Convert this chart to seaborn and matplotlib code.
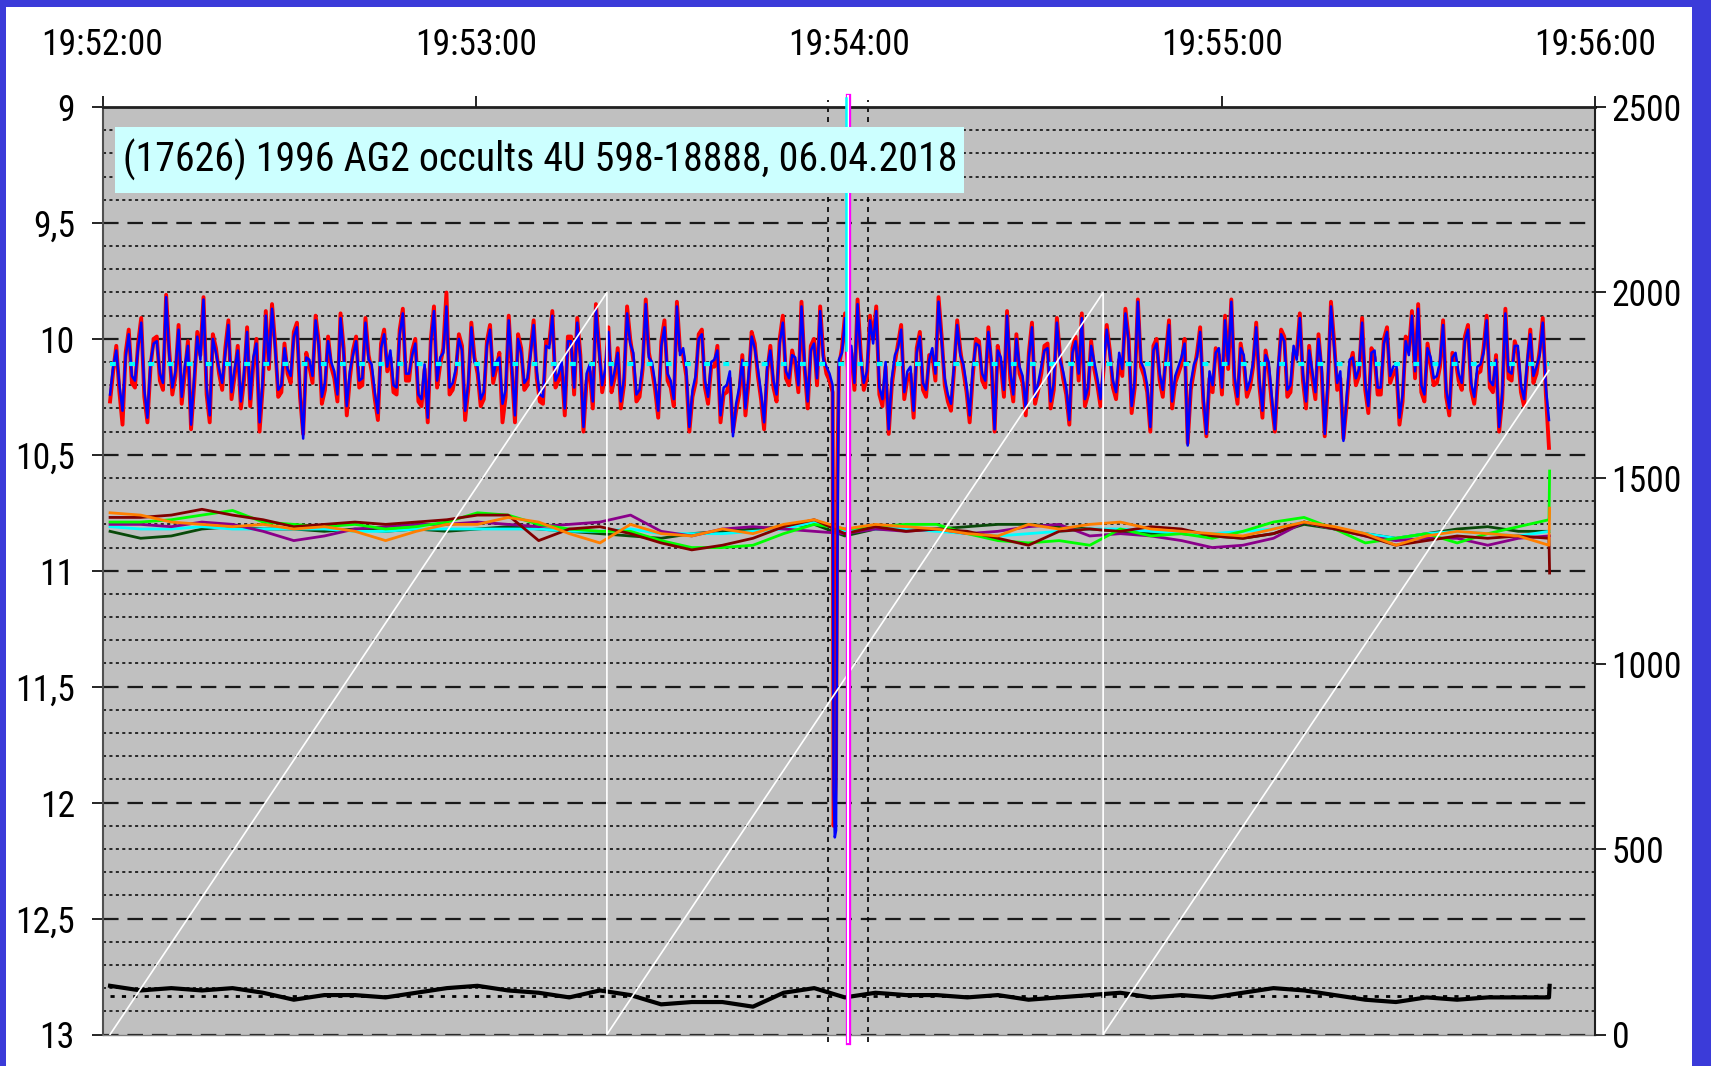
import os
import numpy as np
import pandas as pd
import matplotlib
matplotlib.use('Agg')
import matplotlib.pyplot as plt
import matplotlib.font_manager as fm
from matplotlib.patches import Rectangle
import seaborn as sns

# ---------------- data ----------------
time_ticks_s = [0, 60, 120, 180, 240]
time_labels = ['19:52:00', '19:53:00', '19:54:00', '19:55:00', '19:56:00']
mag_ticks = [9, 9.5, 10, 10.5, 11, 11.5, 12, 12.5, 13]
mag_labels = ['9', '9,5', '10', '10,5', '11', '11,5', '12', '12,5', '13']
right_ticks = [0, 500, 1000, 1500, 2000, 2500]
right_labels = ['0', '500', '1000', '1500', '2000', '2500']
title = '(17626) 1996 AG2 occults 4U 598-18888, 06.04.2018'

target_t_start, target_t_end = 1.2, 232.6
# whole-second samples
target_blue = [
    10.24, 10.05, 10.31, 9.98, 10.18, 9.93, 10.34, 10.02, 10.15, 9.82, 10.21, 9.96, 10.12, 10.37, 9.99, 9.83, 10.33, 10.06, 10.19, 9.94,
    10.13, 10.27, 9.97, 10.08, 10.36, 9.90, 9.87, 10.22, 10.04, 10.16, 9.95, 10.43, 10.09, 9.92, 10.25, 10.01, 10.14, 9.91, 10.29, 10.07,
    10.18, 9.93, 10.11, 10.32, 9.98, 10.05, 10.21, 9.89, 10.15, 10.02, 10.26, 10.34, 9.88, 10.08, 9.86, 10.19, 10.00, 10.31, 9.95, 10.12,
    10.23, 9.96, 10.10, 10.28, 9.92, 10.33, 10.06, 10.17, 9.94, 10.24, 10.03, 9.90, 10.15, 10.30, 10.01, 9.93, 10.38, 10.11, 9.87, 10.20,
    9.97, 10.14, 10.27, 9.89, 10.06, 10.22, 9.85, 10.10, 10.31, 9.95, 10.18, 9.86, 10.04, 10.38, 10.16, 9.98, 10.25, 10.09, 10.33, 10.20,
    10.42, 10.21, 10.30, 9.99, 10.13, 10.36, 10.05, 10.24, 9.93, 10.17, 10.08, 9.86, 10.27, 10.02, 9.88, 10.12, 10.20, 10.09, 9.91, 10.03,
    9.85, 10.19, 9.92, 9.88, 10.26, 10.39, 10.07, 9.96, 10.14, 10.31, 9.99, 10.22, 10.04, 9.84, 10.17, 10.28, 9.94, 10.11, 10.33, 10.02,
    10.15, 9.97, 10.39, 10.08, 9.90, 10.24, 10.12, 10.30, 9.95, 10.19, 10.05, 10.27, 9.93, 10.14, 10.35, 10.01, 9.91, 10.21, 10.10, 10.26,
    9.96, 10.18, 10.06, 9.89, 10.29, 9.84, 10.13, 10.38, 10.02, 10.22, 9.94, 10.16, 10.08, 10.46, 10.11, 9.97, 10.41, 10.20, 10.04, 9.92,
    9.84, 10.25, 10.07, 10.18, 9.95, 10.31, 10.10, 10.39, 9.98, 10.22, 10.03, 9.91, 10.27, 10.14, 10.00, 10.41, 9.86, 10.19, 10.44, 10.09,
    10.17, 9.93, 10.29, 10.05, 10.21, 9.97, 10.12, 10.34, 10.01, 9.90, 9.87, 10.24, 10.08, 10.16, 9.94, 10.30, 10.06, 10.19, 9.96, 10.25,
    10.11, 9.92, 10.20, 10.38, 9.89, 10.15, 10.03, 10.26, 9.98, 10.12, 9.93, 10.35,
]
target_red = [
    10.27, 10.03, 10.37, 9.96, 10.21, 9.91, 10.36, 10.00, 10.18, 9.81, 10.24, 9.94, 10.15, 10.39, 9.97, 9.82, 10.36, 10.04, 10.22, 9.92,
    10.16, 10.30, 9.95, 10.11, 10.40, 9.88, 9.85, 10.25, 10.02, 10.19, 9.93, 10.41, 10.12, 9.90, 10.28, 9.99, 10.17, 9.89, 10.33, 10.05,
    10.21, 9.91, 10.14, 10.35, 9.96, 10.08, 10.24, 9.87, 10.18, 10.00, 10.29, 10.36, 9.86, 10.11, 9.80, 10.22, 9.98, 10.35, 9.93, 10.15,
    10.26, 9.94, 10.13, 10.36, 9.90, 10.36, 10.04, 10.20, 9.92, 10.27, 10.01, 9.88, 10.18, 10.33, 9.99, 9.91, 10.40, 10.14, 9.85, 10.23,
    9.95, 10.17, 10.30, 9.86, 10.09, 10.25, 9.83, 10.13, 10.34, 9.92, 10.21, 9.84, 10.07, 10.40, 10.19, 9.96, 10.28, 10.12, 10.36, 10.23,
    10.40, 10.24, 10.33, 9.97, 10.16, 10.39, 10.03, 10.27, 9.90, 10.20, 10.11, 9.84, 10.30, 10.00, 9.86, 10.15, 10.23, 10.12, 9.89, 10.06,
    9.83, 10.22, 9.90, 9.86, 10.29, 10.41, 10.10, 9.94, 10.17, 10.34, 9.97, 10.25, 10.07, 9.82, 10.20, 10.31, 9.92, 10.14, 10.36, 10.00,
    10.18, 9.95, 10.40, 10.11, 9.88, 10.27, 10.15, 10.33, 9.93, 10.22, 10.03, 10.30, 9.91, 10.17, 10.37, 9.99, 9.89, 10.24, 10.13, 10.29,
    9.94, 10.21, 10.09, 9.87, 10.32, 9.83, 10.16, 10.40, 10.00, 10.25, 9.92, 10.19, 10.11, 10.45, 10.14, 9.95, 10.42, 10.23, 10.07, 9.90,
    9.83, 10.28, 10.10, 10.21, 9.93, 10.34, 10.13, 10.40, 9.96, 10.25, 10.06, 9.89, 10.30, 10.17, 9.98, 10.42, 9.84, 10.22, 10.43, 10.12,
    10.20, 9.91, 10.32, 10.08, 10.24, 9.95, 10.15, 10.37, 9.99, 9.88, 9.85, 10.27, 10.11, 10.19, 9.92, 10.33, 10.09, 10.22, 9.94, 10.28,
    10.14, 9.90, 10.23, 10.40, 9.87, 10.18, 10.06, 10.29, 9.96, 10.15, 9.91, 10.47,
]
# half-second samples (between the whole-second ones); nan = replaced by the occultation samples
target_blue_half = [
    10.12, 10.20, 10.08, 10.16, 10.04, 10.22, 10.10, 10.01, 10.19, 10.07, 10.14, 10.25, 10.03, 10.17, 10.09, 10.21, 10.00, 10.13, 10.06, 10.23,
    10.05, 10.15, 10.26, 10.02, 10.18, 10.11, 10.04, 10.20, 10.13, 9.99, 10.22, 10.08, 10.16, 10.03, 10.19, 10.10, 10.24, 10.06, 10.14, 10.01,
    10.17, 10.09, 10.23, 10.04, 10.12, 10.20, 9.98, 10.15, 10.07, 10.24, 10.11, 10.02, 10.18, 10.06, 10.21, 10.13, 10.05, 10.19, 10.10, 10.26,
    10.03, 10.16, 10.08, 10.22, 10.12, 10.00, 10.19, 10.07, 10.14, 10.25, 10.04, 10.18, 10.10, 10.01, 10.21, 10.09, 10.15, 10.27, 10.05, 10.13,
    10.20, 10.06, 10.17, 10.02, 10.24, 10.11, 10.08, 10.19, 10.03, 10.15, 10.26, 10.07, 10.13, 10.22, 10.00, 10.18, 10.10, 10.05, 10.21, 10.14,
    10.28, 10.09, 10.16, 10.04, 10.23, 10.12, 10.18, 10.02, 10.14, 10.07, 10.20, 10.11, 10.05, 10.17, 10.09, 10.15, np.nan, 10.06, 10.13, 10.19,
    10.08, 10.14, 10.02, 10.21, 10.10, 10.17, 10.04, 10.23, 10.12, 10.06, 10.19, 10.09, 10.15, 10.01, 10.24, 10.11, 10.07, 10.20, 10.13, 10.03,
    10.18, 10.10, 10.05, 10.22, 10.14, 10.00, 10.16, 10.08, 10.25, 10.12, 10.04, 10.19, 10.09, 10.21, 10.06, 10.15, 10.26, 10.03, 10.17, 10.11,
    10.07, 10.23, 10.13, 10.01, 10.18, 10.10, 10.20, 10.05, 10.15, 10.09, 10.27, 10.12, 10.02, 10.19, 10.08, 10.24, 10.14, 10.06, 10.21, 10.11,
    10.16, 10.04, 10.22, 10.10, 10.17, 10.07, 10.25, 10.13, 10.01, 10.20, 10.09, 10.15, 10.05, 10.23, 10.12, 10.18, 10.03, 10.14, 10.26, 10.08,
    10.13, 10.19, 10.06, 10.21, 10.02, 10.16, 10.11, 10.24, 10.07, 10.14, 10.20, 10.04, 10.17, 10.10, 10.22, 10.08, 10.15, 10.01, 10.19, 10.12,
    10.06, 10.18, 10.09, 10.23, 10.14, 10.03, 10.20, 10.10, 10.16, 10.07, 10.21,
]
target_red_half = [
    10.14, 10.23, 10.06, 10.19, 10.02, 10.25, 10.12, 9.99, 10.22, 10.05, 10.16, 10.28, 10.01, 10.20, 10.07, 10.24, 9.98, 10.15, 10.04, 10.26,
    10.03, 10.18, 10.29, 10.00, 10.21, 10.13, 10.02, 10.23, 10.15, 9.97, 10.25, 10.06, 10.19, 10.01, 10.22, 10.12, 10.27, 10.04, 10.17, 9.99,
    10.20, 10.07, 10.26, 10.02, 10.14, 10.23, 9.96, 10.18, 10.05, 10.27, 10.13, 10.00, 10.21, 10.04, 10.24, 10.15, 10.03, 10.22, 10.08, 10.29,
    10.01, 10.19, 10.06, 10.25, 10.14, 9.98, 10.22, 10.05, 10.17, 10.28, 10.02, 10.21, 10.12, 9.99, 10.24, 10.07, 10.18, 10.30, 10.03, 10.16,
    10.23, 10.04, 10.20, 10.00, 10.27, 10.13, 10.06, 10.22, 10.01, 10.18, 10.29, 10.05, 10.16, 10.25, 9.98, 10.21, 10.12, 10.03, 10.24, 10.17,
    10.31, 10.07, 10.19, 10.02, 10.26, 10.14, 10.21, 10.00, 10.17, 10.05, 10.23, 10.13, 10.03, 10.20, 10.07, 10.18, np.nan, 10.04, 10.16, 10.22,
    10.06, 10.17, 10.00, 10.24, 10.12, 10.20, 10.02, 10.26, 10.15, 10.04, 10.22, 10.07, 10.18, 9.99, 10.27, 10.13, 10.05, 10.23, 10.16, 10.01,
    10.21, 10.12, 10.03, 10.25, 10.17, 9.98, 10.19, 10.06, 10.28, 10.15, 10.02, 10.22, 10.07, 10.24, 10.04, 10.18, 10.29, 10.01, 10.20, 10.13,
    10.05, 10.26, 10.16, 9.99, 10.21, 10.12, 10.23, 10.03, 10.18, 10.07, 10.30, 10.15, 10.00, 10.22, 10.06, 10.27, 10.17, 10.04, 10.24, 10.13,
    10.19, 10.02, 10.25, 10.12, 10.20, 10.05, 10.28, 10.16, 9.99, 10.23, 10.07, 10.18, 10.03, 10.26, 10.15, 10.21, 10.01, 10.17, 10.29, 10.06,
    10.16, 10.22, 10.04, 10.24, 10.00, 10.19, 10.13, 10.27, 10.05, 10.17, 10.23, 10.02, 10.20, 10.12, 10.25, 10.06, 10.18, 9.99, 10.22, 10.15,
    10.04, 10.21, 10.07, 10.26, 10.17, 10.01, 10.23, 10.12, 10.19, 10.05, 10.24,
]
# the occultation (extra samples during the drop)
event_t = [117.55, 117.75, 117.95, 118.15]
event_blue = [11.95, 12.15, 12.12, 11.00]
event_red = [12.10, 12.05, 11.85, 10.60]
target_mean = 10.11

comp_t_start, comp_t_end, comp_t_final = 1.2, 232.6, 232.7
comp_darkgreen = [10.83, 10.86, 10.85, 10.82, 10.81, 10.82, 10.82, 10.83, 10.82, 10.83, 10.82, 10.83, 10.82, 10.81, 10.82, 10.83,
                  10.84, 10.85, 10.86, 10.84, 10.83, 10.82, 10.81, 10.80, 10.85, 10.82, 10.82, 10.82, 10.81, 10.80, 10.80, 10.81,
                  10.82, 10.83, 10.84, 10.84, 10.85, 10.86, 10.84, 10.80, 10.82, 10.84, 10.86, 10.84, 10.82, 10.81, 10.83, 10.83, 10.83]
comp_cyan = [10.81, 10.82, 10.82, 10.81, 10.82, 10.82, 10.82, 10.82, 10.83, 10.83, 10.82, 10.82, 10.82, 10.82, 10.82, 10.83,
             10.83, 10.82, 10.84, 10.84, 10.84, 10.83, 10.82, 10.79, 10.83, 10.82, 10.82, 10.83, 10.84, 10.85, 10.84, 10.83,
             10.82, 10.82, 10.83, 10.84, 10.84, 10.83, 10.82, 10.79, 10.82, 10.84, 10.86, 10.84, 10.83, 10.84, 10.85, 10.83, 10.83]
comp_purple = [10.80, 10.80, 10.81, 10.79, 10.80, 10.83, 10.87, 10.85, 10.82, 10.81, 10.80, 10.80, 10.79, 10.80, 10.81, 10.80,
               10.79, 10.76, 10.83, 10.85, 10.82, 10.81, 10.82, 10.83, 10.84, 10.82, 10.83, 10.82, 10.84, 10.83, 10.81, 10.80,
               10.85, 10.84, 10.85, 10.87, 10.90, 10.89, 10.86, 10.79, 10.82, 10.85, 10.87, 10.86, 10.86, 10.89, 10.86, 10.85, 10.85]
comp_green = [10.79, 10.79, 10.78, 10.76, 10.74, 10.79, 10.80, 10.81, 10.80, 10.82, 10.81, 10.79, 10.75, 10.76, 10.80, 10.82,
              10.83, 10.83, 10.87, 10.90, 10.90, 10.89, 10.84, 10.80, 10.82, 10.81, 10.80, 10.80, 10.84, 10.87, 10.88, 10.87,
              10.89, 10.82, 10.85, 10.84, 10.86, 10.83, 10.79, 10.77, 10.82, 10.88, 10.86, 10.84, 10.88, 10.84, 10.81, 10.78, 10.57]
comp_maroon = [10.77, 10.77, 10.76, 10.735, 10.76, 10.78, 10.81, 10.80, 10.79, 10.80, 10.79, 10.78, 10.76, 10.76, 10.87, 10.82,
               10.81, 10.84, 10.88, 10.91, 10.89, 10.86, 10.81, 10.78, 10.84, 10.81, 10.83, 10.82, 10.83, 10.86, 10.89, 10.83,
               10.82, 10.83, 10.81, 10.82, 10.85, 10.86, 10.84, 10.79, 10.82, 10.85, 10.89, 10.87, 10.85, 10.86, 10.85, 10.86, 11.01]
comp_orange = [10.75, 10.76, 10.79, 10.80, 10.81, 10.80, 10.82, 10.81, 10.83, 10.87, 10.83, 10.80, 10.80, 10.77, 10.79, 10.84,
               10.88, 10.80, 10.84, 10.85, 10.82, 10.84, 10.80, 10.78, 10.82, 10.80, 10.81, 10.82, 10.84, 10.85, 10.80, 10.82,
               10.80, 10.79, 10.82, 10.83, 10.84, 10.85, 10.82, 10.79, 10.81, 10.84, 10.89, 10.85, 10.83, 10.84, 10.85, 10.89, 10.73]
black_star = [12.79, 12.81, 12.80, 12.81, 12.80, 12.82, 12.85, 12.83, 12.83, 12.84, 12.82, 12.80, 12.79, 12.81, 12.82, 12.84,
              12.81, 12.83, 12.87, 12.86, 12.86, 12.88, 12.82, 12.80, 12.84, 12.82, 12.83, 12.83, 12.84, 12.83, 12.85, 12.84,
              12.83, 12.82, 12.84, 12.83, 12.84, 12.82, 12.80, 12.81, 12.83, 12.85, 12.86, 12.84, 12.85, 12.84, 12.84, 12.84, 12.79]
black_mean = 12.835

frame_t = [1.2, 81.1, 81.1, 160.9, 160.9, 232.6]
frame_count = [0, 2000, 0, 2000, 0, 1790]

timing_marks_t = [116.7, 123.1]
event_line_t = 119.9
cyan_line_t = 119.6
cyan_line_top, cyan_line_bottom = 8.96, 10.05


# ---------------- fonts ----------------
def find_condensed_font():
    cands = [('Liberation Sans Narrow', 'normal', 'narrow'), ('Arial Narrow', 'normal', 'narrow'),
             ('Roboto Condensed', 'normal', 'condensed'), ('Roboto', 'condensed', 'condensed'),
             ('Noto Sans', 'condensed', 'condensed'), ('Open Sans', 'condensed', 'condensed'),
             ('Liberation Sans', 'normal', ''), ('Arial', 'normal', '')]
    for fam, st, key in cands:
        try:
            p = fm.findfont(fm.FontProperties(family=fam, stretch=st, weight='normal', style='normal'),
                            fallback_to_default=False)
        except Exception:
            continue
        name = os.path.basename(p).lower()
        if key and key not in name:
            continue
        if 'bold' in name or 'italic' in name or 'light' in name or 'semi' in name:
            continue
        return p
    return fm.findfont('DejaVu Sans')


FONT_PATH = find_condensed_font()

# ---------------- figure ----------------
W, H = 1711, 1066
fig = plt.figure(figsize=(W / 100, H / 100), dpi=100, facecolor='#3b3bd9')
fig.add_artist(Rectangle((6 / W, 0), (1692 - 6) / W, 1 - 7 / H, transform=fig.transFigure,
                         facecolor='white', edgecolor='none', zorder=0))

# size fonts so that the text widths match the original
renderer = fig.canvas.get_renderer()
probe = fig.text(0, 0, '19:52:00', fontproperties=fm.FontProperties(fname=FONT_PATH, size=20))
tick_size = 20 * 122.0 / probe.get_window_extent(renderer).width
probe.set_text(title)
title_size = 20 * 833.0 / probe.get_window_extent(renderer).width
probe.remove()
fp_tick = fm.FontProperties(fname=FONT_PATH, size=tick_size)
fp_title = fm.FontProperties(fname=FONT_PATH, size=title_size)

ax_l, ax_r, ax_t, ax_b = 102.6, 1595.0, 107.0, 1034.5
ax = fig.add_axes([ax_l / W, 1 - ax_b / H, (ax_r - ax_l) / W, (ax_b - ax_t) / H])
ax.set_facecolor('#c0c0c0')
ax.set_axisbelow(True)

# target star (red + blue)
t_base = np.linspace(target_t_start, target_t_end, len(target_blue))
t_half = (t_base[:-1] + t_base[1:]) / 2
tgt = pd.DataFrame({
    't': np.concatenate([t_base, t_half, event_t]),
    'blue': np.concatenate([target_blue, target_blue_half, event_blue]),
    'red': np.concatenate([target_red, target_red_half, event_red]),
}).dropna().sort_values('t')
sns.lineplot(data=tgt, x='t', y='red', ax=ax, color='#ff0000', lw=2.8,
             estimator=None, sort=False, zorder=3)
sns.lineplot(data=tgt, x='t', y='blue', ax=ax, color='#0000ff', lw=1.8,
             estimator=None, sort=False, zorder=4)
ax.plot([target_t_start, target_t_end], [target_mean, target_mean], color='#00ffff',
        lw=3.0, dashes=(1.4, 3.2), zorder=5)

# comparison stars
comp_t = np.concatenate([np.linspace(comp_t_start, comp_t_end, len(comp_cyan) - 1), [comp_t_final]])
comps = {
    'darkgreen': comp_darkgreen, 'cyan': comp_cyan, 'purple': comp_purple,
    'green': comp_green, 'maroon': comp_maroon, 'orange': comp_orange,
}
comp_df = pd.concat([pd.DataFrame({'t': comp_t, 'mag': v, 'star': k}) for k, v in comps.items()])
palette = {'darkgreen': '#0a4a0a', 'cyan': '#00ffff', 'purple': '#8a008a',
           'green': '#00ff00', 'maroon': '#800000', 'orange': '#ff7f00'}
sns.lineplot(data=comp_df, x='t', y='mag', hue='star', hue_order=list(comps.keys()),
             palette=palette, ax=ax, lw=2.0, estimator=None, sort=False, legend=False, zorder=2.5)

# faint reference star
sns.lineplot(x=comp_t, y=black_star, ax=ax, color='black', lw=3.0, estimator=None, sort=False, zorder=3)
ax.plot([comp_t_start, comp_t_end], [black_mean, black_mean], color='black', lw=2.0,
        dashes=(1.5, 2.6), zorder=3)

# timing marks
for tm in timing_marks_t:
    ax.axvline(tm, ymin=-0.008, ymax=1.008, color='black', lw=1.2, ls=(0, (3, 3)),
               clip_on=False, zorder=1.6)

# axes styling (left)
ax.set_xlim(0, 240)
ax.set_ylim(13, 9)
ax.set_yticks(mag_ticks)
ax.set_yticklabels(mag_labels, fontproperties=fp_tick)
ax.set_yticks(np.arange(9, 13.001, 0.1), minor=True)
ax.grid(axis='y', which='major', color='#1a1a1a', lw=1.6, ls=(0, (7, 4)))
ax.grid(axis='y', which='minor', color='black', lw=1.1, ls=(0, (2, 2.2)))
ax.grid(axis='x', which='both', visible=False)
ax.tick_params(axis='y', which='major', direction='out', length=8, width=1.2, pad=12,
               left=True, right=False)
ax.tick_params(axis='y', which='minor', length=0)
ax.xaxis.set_ticks_position('top')
ax.set_xticks(time_ticks_s)
ax.set_xticklabels(time_labels, fontproperties=fp_tick)
ax.tick_params(axis='x', which='major', direction='out', length=8, width=1.2, pad=24,
               top=True, bottom=False, labeltop=True, labelbottom=False)
ax.set_xlabel('')
ax.set_ylabel('')
ax.spines['top'].set(lw=2.0, color='#202020')
ax.spines['left'].set(lw=1.5, color='#505050')
ax.spines['bottom'].set(lw=1.0, color='#808080')
ax.spines['right'].set_visible(False)

# right axis: frame counter
ax2 = ax.twinx()
sns.lineplot(x=frame_t, y=frame_count, ax=ax2, color='white', lw=1.2, estimator=None, sort=False, zorder=2)
ax2.set_ylim(0, 2500)
ax2.set_yticks(right_ticks)
ax2.set_yticklabels(right_labels, fontproperties=fp_tick)
ax2.tick_params(axis='y', direction='out', length=8, width=1.2, pad=4)
ax2.set_ylabel('')
ax2.set_xlabel('')
for s in ['top', 'left', 'bottom']:
    ax2.spines[s].set_visible(False)
ax2.spines['right'].set(lw=1.5, color='#202020')

# event lines on top
ax2.axvline(event_line_t, ymin=-0.008, ymax=1.012, color='#ff00ff', lw=3.8, clip_on=False, zorder=5)
ax2.axvline(event_line_t, ymin=-0.008, ymax=1.012, color='white', lw=1.5, clip_on=False, zorder=6)
ax2.axvline(cyan_line_t, ymin=(13 - cyan_line_bottom) / 4, ymax=(13 - cyan_line_top) / 4,
            color='#00ffff', lw=1.8, clip_on=False, zorder=7)

# title box
ax2.add_patch(Rectangle((0.008, 0.907), 0.569, 0.071, transform=ax2.transAxes,
                        facecolor='#ccffff', edgecolor='none', zorder=10))
ax2.text(0.0135, 0.9425, title, transform=ax2.transAxes, ha='left', va='center',
         fontproperties=fp_title, color='black', zorder=11)

ax.set_xlim(0, 240)
fig.savefig('out.png', dpi=100, facecolor=fig.get_facecolor())
